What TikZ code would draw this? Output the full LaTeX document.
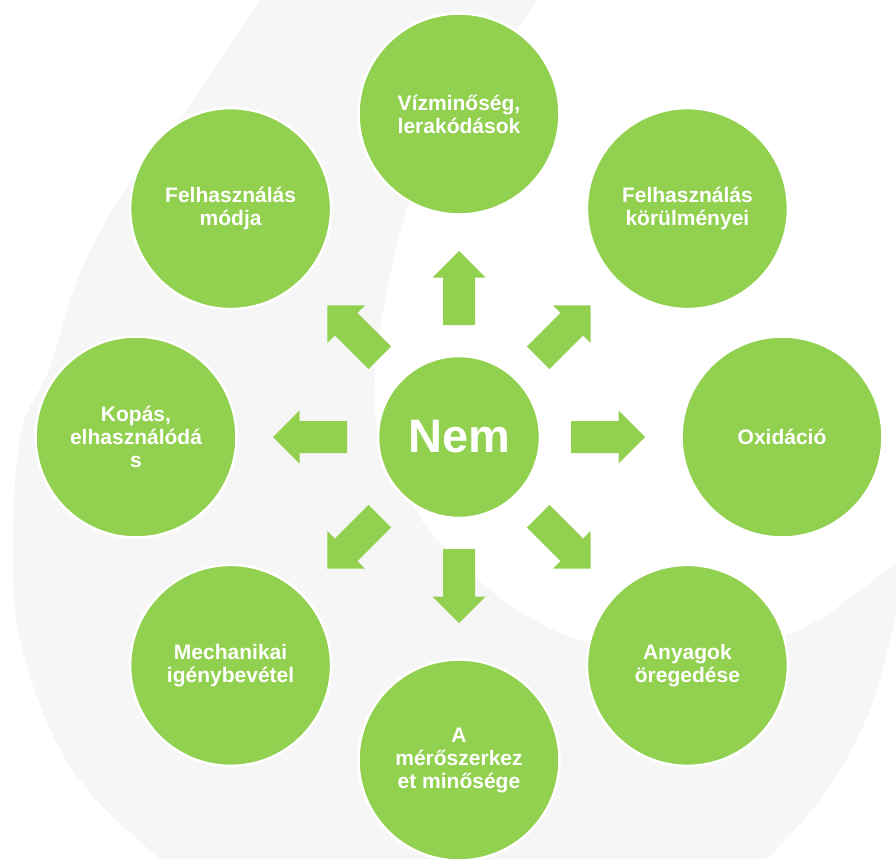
\documentclass[tikz,border=0pt]{standalone}
\usepackage{fontspec}
\setmainfont{Liberation Sans}
\definecolor{leaf}{HTML}{92D050}
\definecolor{bggray}{HTML}{F6F6F6}
\begin{document}
\begin{tikzpicture}[x=1pt,y=-1pt,
  outer/.style={circle, fill=leaf, draw=white, line width=2.5pt, minimum size=201pt,
    inner sep=0pt, align=center, text=white, font=\bfseries\fontsize{21}{23}\selectfont},
  hub/.style={circle, fill=leaf, draw=white, line width=2.5pt, minimum size=162pt,
    inner sep=0pt, text=white, font=\bfseries\fontsize{47}{50}\selectfont},
  blockarrow/.style={fill=leaf}]
\useasboundingbox (0,0) rectangle (896,859);
\fill[white] (0,0) rectangle (896,859);
% background swoosh
\fill[bggray]
  plot[smooth, tension=0.6] coordinates {(260,0) (187,110) (127,187) (80,273) (50,367) (22,429) (13,529) (18,629) (50,729) (93,796) (160,859)}
  -- plot[smooth, tension=0.6] coordinates {(766,859) (823,796) (869,712) (896,616)}
  -- plot[smooth, tension=0.6] coordinates {(896,562) (800,630) (690,655) (586,642) (510,605) (447,550) (417,513) (380,440) (375,373) (385,300) (410,200) (455,108) (518,27) (537,0)}
  -- cycle;
% nodes
\node[hub] (c) at (459,437) {Nem};
\node[outer] (n1) at (459,114) {Vízminőség,\\lerakódások};
\node[outer] (n2) at (687.4,208.6) {Felhasználás\\körülményei};
\node[outer] (n3) at (782,437) {Oxidáció};
\node[outer] (n4) at (687.4,665.4) {Anyagok\\öregedése};
\node[outer] (n5) at (459,760) {A\\mérőszerkez\\et minősége};
\node[outer] (n6) at (230.6,665.4) {Mechanikai\\igénybevétel};
\node[outer] (n7) at (136,437) {Kopás,\\elhasználódá\\s};
\node[outer] (n8) at (230.6,208.6) {Felhasználás\\módja};
% block arrows from the hub toward each outer node
\foreach \a in {0,45,...,315}{
  \begin{scope}[shift={(c)}, rotate=\a]
    \fill[blockarrow] (112,-16) -- (159.5,-16) -- (159.5,-26.5) -- (186,0)
      -- (159.5,26.5) -- (159.5,16) -- (112,16) -- cycle;
  \end{scope}
}
\end{tikzpicture}
\end{document}
